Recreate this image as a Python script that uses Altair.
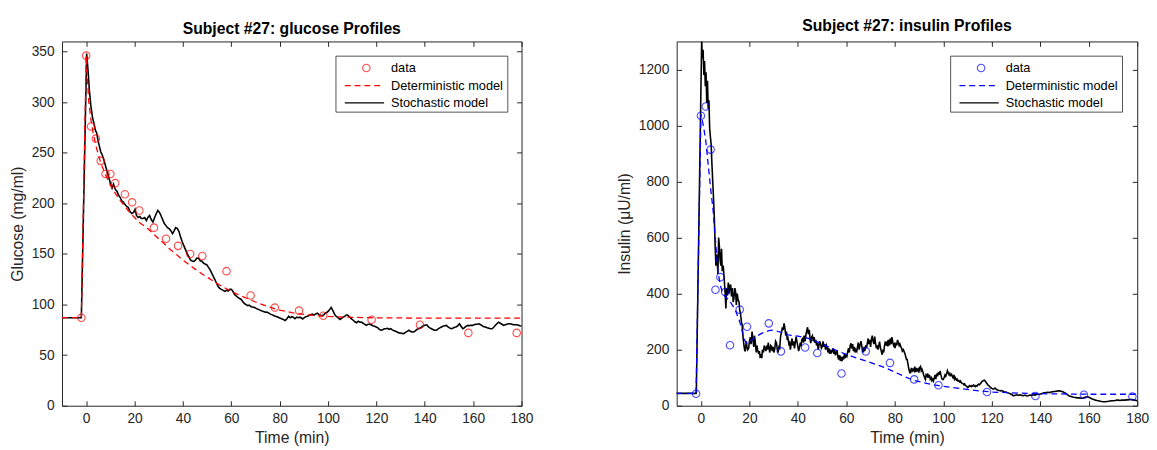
import altair as alt
import pandas as pd

FONT = "Liberation Sans"
TXT = "#262626"

# ---------------- shared ----------------
x_ticks = [0, 20, 40, 60, 80, 100, 120, 140, 160, 180]
x_domain = [-10, 180]
legend_labels = ["data", "Deterministic model", "Stochastic model"]

# ---------------- glucose ----------------
g_data_t = [-2, 0, 2, 4, 6, 8, 10, 12, 16, 19, 22, 28, 33, 38, 43, 48, 58, 68, 78, 88, 98, 118, 138, 158, 178]
g_data_v = [87, 346, 276, 264, 242, 229, 229, 220, 209, 201, 193, 176, 165, 158, 150, 148, 133, 109, 97, 94, 89, 85, 80, 72, 72]

g_det_t = [-10, -2, 0, 1, 2, 3, 4, 6, 8, 10, 12, 14, 16, 18, 20, 22, 25, 30, 35, 40, 45, 50, 55, 60, 65, 70, 75, 80, 85, 90, 95, 100, 110, 120, 140, 180]
g_det_v = [87, 87, 346, 302, 282, 268, 257, 240, 228, 218, 210, 203, 197, 191, 186, 181, 176, 165, 154, 144, 135, 127, 119.5, 113, 107.5, 102.5, 98, 94.5, 92, 90.3, 89, 88.2, 87.3, 86.9, 86.6, 86.5]

g_sto_t = [-10, -2, 0.2, 0.8, 1.3, 1.9, 2.6, 3.2, 3.8, 4.3, 5.0, 5.5, 6.0, 6.6, 7.3, 8.0, 8.6, 9.3, 10.0, 10.7, 11.3, 12.0, 12.7, 13.4, 14.0, 14.7, 15.4, 16.0, 16.7, 17.4, 18.1, 18.8, 19.6, 20.2, 20.8, 21.5, 22.2, 22.8, 23.5, 24.2, 24.9, 25.5, 26.2, 26.9, 27.6, 28.3, 29.0, 29.6, 30.3, 30.9, 31.6, 32.3, 33.0, 33.6, 34.3, 35.0, 35.7, 36.4, 37.0, 37.7, 38.4, 39.0, 39.7, 40.4, 41.1, 41.8, 42.4, 43.1, 43.8, 44.5, 45.2, 45.8, 46.5, 47.2, 47.8, 48.5, 49.2, 49.9, 50.5, 51.2, 51.9, 52.5, 53.2, 53.9, 54.5, 55.2, 55.9, 56.6, 57.3, 58.0, 58.7, 59.4, 60.0, 60.7, 61.3, 62.0, 62.7, 63.4, 64.0, 64.7, 65.4, 66.1, 66.8, 67.4, 68.1, 68.7, 69.4, 70.1, 70.8, 71.5, 72.2, 72.8, 73.5, 74.2, 74.9, 75.5, 76.2, 76.9, 77.5, 78.2, 78.9, 79.6, 80.3, 81.0, 81.7, 82.3, 83.0, 83.7, 84.3, 85.0, 85.6, 86.3, 87.0, 87.7, 88.4, 89.1, 89.5, 90.2, 90.8, 91.5, 92.1, 92.8, 93.5, 94.2, 94.9, 95.6, 96.2, 96.9, 97.6, 98.3, 98.9, 99.6, 100.3, 101.3, 102.0, 102.6, 103.0, 103.6, 104.3, 105.0, 105.6, 106.3, 107.0, 107.6, 108.1, 108.8, 109.7, 110.4, 111.1, 111.8, 112.5, 113.2, 113.8, 114.5, 115.2, 115.8, 116.5, 117.2, 117.8, 118.5, 119.2, 119.9, 120.6, 121.2, 121.9, 122.6, 123.2, 123.9, 124.6, 125.2, 125.9, 126.6, 127.3, 127.9, 128.6, 129.3, 130.0, 130.6, 131.3, 132.0, 132.7, 133.4, 134.0, 134.7, 135.4, 136.1, 136.7, 137.4, 138.1, 138.8, 139.4, 140.1, 140.8, 141.5, 142.1, 142.8, 143.5, 144.1, 144.8, 145.5, 146.2, 146.9, 147.5, 148.2, 148.9, 149.6, 150.2, 150.9, 151.6, 152.2, 152.9, 153.6, 154.3, 155.0, 155.7, 156.3, 157.0, 157.7, 158.4, 159.0, 159.7, 160.4, 161.0, 161.7, 162.4, 163.1, 163.8, 164.4, 165.1, 165.8, 166.5, 167.1, 167.8, 168.5, 169.2, 169.8, 170.5, 171.2, 171.9, 172.6, 173.3, 173.9, 174.6, 175.3, 176.0, 176.6, 177.3, 178.0, 178.7, 179.3, 180]
g_sto_v = [87, 87, 348, 330, 312, 297, 285, 279, 272, 270, 261, 256, 251, 248, 243, 237, 232, 226, 220, 215, 219, 214, 212, 208, 206, 202.5, 201, 199, 197, 196, 192, 190, 191, 194, 188, 186, 187, 185, 185, 186, 183, 186, 188, 184, 181.5, 186, 190, 193, 191, 188, 184, 180, 178, 176, 175, 173, 170, 173, 176, 175, 172, 167, 162, 158, 154, 150, 147.5, 144, 143, 142.6, 144, 146, 145.8, 143, 143, 141, 140, 139.3, 137, 134.5, 131, 128, 124.7, 121, 118, 116, 115, 114, 113, 114, 113.4, 115, 115, 113, 110, 108.5, 107, 106, 105.3, 103, 101, 100, 98.9, 99.5, 98, 97.5, 97.2, 96.5, 95.5, 95, 94, 93.5, 93, 92.5, 92.4, 91.5, 90.5, 89.8, 89.1, 88.5, 88, 87.2, 86.5, 85.8, 85, 84.3, 86, 88.5, 87, 88, 87.5, 86, 87.5, 87, 87.5, 86.5, 85.8, 87, 88, 88.5, 89.1, 90, 90.5, 89.5, 90.7, 91.5, 90, 89.5, 89.1, 90, 91.5, 92.4, 94, 97.2, 94, 91, 89.1, 88, 86.5, 85.3, 86.5, 87.5, 88.5, 89.7, 89.7, 88, 85.8, 84.5, 83, 82, 83.5, 82.5, 82.6, 81.5, 80.5, 79.4, 80.5, 80.5, 80, 79, 78.5, 77.8, 77, 75.5, 74.6, 75, 76, 76.1, 76.5, 75.5, 76.1, 75, 74, 73.5, 72.9, 72, 71.8, 71.5, 71.3, 72.5, 73.5, 74.6, 73.5, 73, 72.9, 74, 75.5, 76, 76.8, 78, 79, 79.5, 80, 78, 77, 76.1, 75, 74.6, 74.6, 76, 77, 77.8, 78.5, 79, 79.4, 78, 77, 76.1, 76.5, 77.5, 77.8, 79, 81, 78.5, 76.1, 77, 78.5, 79.4, 79, 79.5, 79.4, 80, 80.5, 80.5, 81, 80, 79, 78, 77.8, 77, 76.5, 76.1, 76.1, 77.5, 79.5, 81, 82.6, 81.5, 80.5, 79.4, 80, 80.5, 81, 81, 80.5, 80, 80, 80, 79.5, 79, 78.7]

# ---------------- insulin ----------------
i_data_t = [-2, 0, 2, 4, 6, 8, 10, 12, 16, 19, 28, 33, 43, 48, 58, 68, 78, 88, 98, 118, 138, 158, 178]
i_data_v = [43, 1035, 1068, 914, 414, 459, 406, 216, 343, 282, 294, 194, 208, 188, 115, 194, 153, 94, 73, 49, 35, 39, 33]

i_det_t = [-10, -2, 0, 1, 2, 3, 4, 5, 6, 7, 8, 9, 10, 12, 14, 16, 18, 19, 20, 22, 25, 28, 30, 33, 36, 40, 44, 48, 52, 56, 60, 64, 68, 72, 76, 80, 84, 88, 92, 96, 100, 105, 110, 115, 120, 128, 140, 160, 180]
i_det_v = [44, 44, 1040, 1000, 945, 860, 775, 700, 590, 480, 430, 400, 390, 372, 345, 300, 235, 222, 226, 243, 258, 268, 270, 262, 253, 248, 241, 228, 212, 197, 183, 171, 160, 148, 136, 120, 104, 90, 82, 75, 69, 64, 58, 53, 49, 46, 43, 41, 41]

i_sto_t = [-10, -2, -1.9, 0.3, 0.6, 0.9, 1.2, 1.5, 1.8, 2.1, 2.4, 2.7, 3.0, 3.3, 3.6, 3.9, 4.2, 4.5, 4.9, 5.2, 5.5, 5.9, 6.2, 6.4, 6.7, 7.0, 7.3, 7.6, 7.9, 8.2, 8.5, 8.8, 9.2, 9.6, 10.0, 10.3, 10.6, 10.9, 11.3, 11.6, 12.0, 12.3, 12.6, 13.0, 13.3, 13.6, 14.0, 14.3, 14.6, 15.0, 15.3, 15.7, 16.0, 16.3, 16.7, 17.0, 17.3, 17.7, 18.0, 18.3, 18.7, 19.0, 19.3, 19.7, 20.0, 20.4, 20.7, 21.1, 21.4, 21.8, 22.1, 22.4, 22.8, 23.1, 23.4, 23.8, 24.1, 24.4, 24.8, 25.1, 25.4, 25.8, 26.1, 26.4, 26.8, 27.1, 27.4, 27.8, 28.1, 28.4, 28.8, 29.1, 29.4, 29.8, 30.1, 30.5, 30.8, 31.2, 31.5, 31.8, 32.2, 32.5, 32.9, 33.2, 33.6, 33.9, 34.3, 34.6, 35.0, 35.3, 35.6, 35.9, 36.3, 36.6, 36.9, 37.2, 37.6, 37.9, 38.2, 38.6, 38.9, 39.3, 39.6, 39.9, 40.3, 40.6, 41.0, 41.3, 41.6, 42.0, 42.3, 42.6, 43.0, 43.3, 43.7, 44.0, 44.3, 44.7, 45.0, 45.3, 45.7, 46.0, 46.4, 46.7, 47.0, 47.4, 47.7, 48.0, 48.4, 48.7, 49.0, 49.4, 49.7, 50.1, 50.4, 50.8, 51.1, 51.4, 51.8, 52.1, 52.4, 52.8, 53.1, 53.5, 53.8, 54.1, 54.5, 54.8, 55.1, 55.5, 55.8, 56.2, 56.5, 56.8, 57.2, 57.5, 57.8, 58.2, 58.5, 58.9, 59.2, 59.5, 59.9, 60.2, 60.6, 60.9, 61.2, 61.6, 61.9, 62.2, 62.6, 62.9, 63.3, 63.6, 63.9, 64.3, 64.6, 64.9, 65.3, 65.6, 66.0, 66.3, 66.6, 67.0, 67.3, 67.6, 68.0, 68.3, 68.7, 69.0, 69.3, 69.7, 70.0, 70.3, 70.7, 71.0, 71.4, 71.7, 72.0, 72.4, 72.7, 73.1, 73.4, 73.7, 74.1, 74.4, 74.8, 75.1, 75.4, 75.7, 76.1, 76.4, 76.8, 77.1, 77.4, 77.8, 78.1, 78.5, 78.8, 79.1, 79.5, 79.8, 80.1, 80.5, 80.8, 81.1, 81.5, 81.8, 82.1, 82.5, 82.8, 83.1, 83.5, 83.8, 84.2, 84.5, 84.8, 85.1, 85.5, 85.8, 86.2, 86.5, 86.8, 87.2, 87.5, 87.9, 88.2, 88.5, 88.9, 89.2, 89.6, 89.9, 90.2, 90.6, 90.9, 91.2, 91.6, 91.9, 92.3, 92.6, 92.9, 93.3, 93.6, 93.9, 94.3, 94.6, 95.0, 95.3, 95.6, 95.9, 96.3, 96.6, 96.9, 97.3, 97.6, 98.0, 98.3, 98.7, 99.0, 99.3, 99.6, 100.0, 100.3, 100.7, 101.0, 101.4, 101.7, 102.0, 102.4, 102.7, 103.0, 103.4, 103.7, 104.0, 104.4, 104.7, 105.0, 105.4, 105.7, 106.1, 106.4, 106.8, 107.1, 107.4, 107.8, 108.1, 108.5, 108.8, 109.1, 109.5, 109.8, 110.1, 110.5, 110.8, 111.2, 111.5, 111.8, 112.2, 112.5, 112.8, 113.2, 113.5, 113.9, 114.2, 114.5, 114.9, 115.2, 115.6, 115.9, 116.2, 116.6, 116.9, 117.3, 117.6, 117.9, 118.3, 118.6, 118.9, 119.3, 119.6, 120.0, 120.3, 120.6, 121.0, 121.3, 121.6, 122.0, 122.4, 122.7, 123.1, 123.6, 124.1, 124.6, 125.1, 125.6, 126.3, 127.0, 127.6, 128.3, 129.0, 129.7, 130.4, 131.0, 131.7, 132.4, 133.0, 133.7, 134.4, 135.0, 135.7, 136.4, 137.1, 137.8, 138.4, 139.1, 139.8, 140.5, 141.2, 141.8, 142.5, 143.2, 143.8, 144.5, 145.2, 145.9, 146.6, 147.3, 147.9, 148.6, 149.3, 150.0, 150.7, 151.3, 152.0, 152.7, 153.4, 154.0, 154.7, 155.4, 156.1, 156.7, 157.4, 158.1, 158.8, 159.4, 160.1, 160.8, 161.4, 162.1, 162.8, 163.4, 164.1, 164.8, 165.4, 166.1, 166.8, 167.5, 168.2, 168.8, 169.5, 170.2, 170.9, 171.5, 172.2, 172.9, 173.6, 174.2, 174.9, 175.6, 176.3, 177.0, 177.6, 178.3, 179.0, 180]
i_sto_v = [44, 44, 47, 1300, 1240, 1270, 1180, 1230, 1140, 1190, 1080, 1160, 1060, 1090, 990, 960, 935, 870, 794, 740, 677, 559, 500, 540, 523, 470, 600, 571, 520, 500, 560, 480, 500, 453, 400, 347, 420, 394, 440, 400, 430, 430, 390, 420, 370, 382, 420, 406, 360, 400, 380, 371, 340, 330, 300, 288, 250, 220, 200, 194, 230, 210, 200, 206, 230, 245, 220, 265, 240, 210, 250, 229, 190, 215, 200, 185, 195, 175, 180, 170, 200, 190, 215, 206, 195, 215, 200, 225, 205, 190, 215, 212, 195, 210, 190, 205, 230, 223, 200, 190, 210, 206, 250, 260, 280, 270, 294, 280, 250, 265, 235, 241, 220, 225, 200, 218, 240, 215, 230, 205, 225, 247, 230, 215, 195, 205, 225, 212, 235, 240, 225, 250, 230, 253, 270, 280, 255, 271, 240, 223, 245, 250, 230, 245, 225, 235, 215, 225, 200, 215, 230, 220, 205, 212, 230, 210, 220, 200, 215, 206, 190, 205, 185, 200, 190, 194, 205, 185, 200, 180, 190, 194, 175, 165, 180, 160, 170, 159, 175, 165, 185, 170, 180, 176, 195, 205, 190, 215, 223, 205, 220, 195, 210, 190, 200, 194, 210, 225, 200, 215, 230, 218, 200, 190, 210, 195, 215, 206, 225, 240, 220, 235, 210, 235, 250, 230, 220, 247, 225, 205, 215, 200, 215, 229, 205, 195, 182, 200, 190, 212, 230, 215, 225, 212, 235, 215, 240, 220, 245, 229, 215, 220, 206, 225, 215, 235, 225, 215, 220, 210, 205, 195, 200, 194, 185, 175, 165, 165, 145, 130, 118, 118, 135, 125, 130, 124, 140, 120, 135, 125, 130, 118, 135, 140, 125, 130, 120, 110, 100, 94, 110, 105, 115, 100, 110, 95, 100, 90, 95, 88, 100, 110, 95, 115, 105, 120, 110, 124, 110, 100, 94, 94, 100, 110, 105, 115, 125, 118, 110, 115, 108, 112, 105, 100, 110, 95, 100, 92, 95, 88, 90, 85, 88, 82, 80, 79, 75, 78, 72, 70, 68, 65, 68, 72, 70, 68, 72, 70, 74, 71, 68, 72, 70, 74, 77, 75, 78, 82, 86, 88, 90, 91, 88, 84, 80, 76, 72, 71, 67, 64, 62, 60, 59, 61, 63, 61, 58, 56, 55, 54, 53, 54, 52, 50, 49, 47, 45, 43, 40, 35, 37, 39, 37, 39, 37, 36, 38, 35, 36, 38, 37, 39, 38, 40, 41, 41, 43, 45, 46, 47, 48, 47, 49, 50, 51, 52, 53, 53, 52, 50, 47, 43, 39, 35, 33, 31, 30, 29, 28, 28, 27, 27, 29, 31, 32, 30, 27, 24, 22, 20, 19, 18, 16, 15, 14, 14, 15, 16, 17, 18, 18, 19, 20, 20, 19, 20, 20, 20, 21, 21, 22, 22, 21, 20, 18]

H = 371


def panel(title, ytitle, ydomain, yticks, color, dt, dv, mt, mv, st, sv, width):
    xs = alt.Scale(domain=x_domain, nice=False, zero=False)
    ys = alt.Scale(domain=ydomain, nice=False, zero=False)
    d_data = pd.DataFrame({"t": dt, "v": dv})
    d_det = pd.DataFrame({"t": mt, "v": mv})
    d_sto = pd.DataFrame({"t": st, "v": sv})

    common = dict(labelFont=FONT, labelFontSize=14, labelColor=TXT, labelFlush=False,
                  titleFont=FONT, titleFontSize=16, titleFontWeight="normal",
                  titleColor=TXT, domainColor=TXT, domainWidth=1, grid=False, format="d")

    stoch = alt.Chart(d_sto).mark_line(color="black", strokeWidth=1.6).encode(
        x=alt.X("t:Q", scale=xs, axis=alt.Axis(values=x_ticks, title="Time (min)", ticks=False,
                                               labelPadding=6, titlePadding=4, **common)),
        y=alt.Y("v:Q", scale=ys, axis=alt.Axis(values=yticks, title=ytitle, ticks=False,
                                               labelPadding=8, titlePadding=6, **common)),
    )
    det = alt.Chart(d_det).mark_line(color=color, strokeWidth=1.3, strokeDash=[6, 4]).encode(
        x=alt.X("t:Q", scale=xs, axis=None), y=alt.Y("v:Q", scale=ys, axis=None))
    pts = alt.Chart(d_data).mark_point(shape="circle", filled=False, size=58, strokeWidth=1.1,
                                       color=color).encode(
        x=alt.X("t:Q", scale=xs, axis=None), y=alt.Y("v:Q", scale=ys, axis=None))

    tick_common = dict(labels=False, grid=False, title="", tickColor=TXT, tickSize=5, tickWidth=1,
                       domainColor=TXT, domainWidth=1)
    ticksA = alt.Chart(d_data).mark_point(opacity=0).encode(
        x=alt.X("t:Q", scale=xs, axis=alt.Axis(values=x_ticks, orient="top", offset=-H, domain=False, **tick_common)),
        y=alt.Y("v:Q", scale=ys, axis=alt.Axis(values=yticks, orient="right", offset=-width, domain=False, **tick_common)),
    )
    ticksB = alt.Chart(d_data).mark_point(opacity=0).encode(
        x=alt.X("t:Q", scale=xs, axis=alt.Axis(values=x_ticks, orient="bottom", offset=-H, domain=True, **tick_common)),
        y=alt.Y("v:Q", scale=ys, axis=alt.Axis(values=yticks, orient="left", offset=-width, domain=True, **tick_common)),
    )

    # legend (in pixel space of the plot area)
    bx0, bx1, by0, by1 = 279, 454, 15, 72
    rows = [27, 45, 62.5]
    box = alt.Chart(pd.DataFrame({"a": [0]})).mark_rect(fill="white", stroke=TXT, strokeWidth=0.8).encode(
        x=alt.value(bx0), x2=alt.value(bx1), y=alt.value(by0), y2=alt.value(by1))
    lg_pt = alt.Chart(pd.DataFrame({"a": [0]})).mark_point(shape="circle", filled=False, size=58,
                                                           strokeWidth=1.1, color=color).encode(
        x=alt.value(310), y=alt.value(rows[0]))
    lg_det = alt.Chart(pd.DataFrame({"a": [0]})).mark_rule(color=color, strokeWidth=1.3, strokeDash=[6, 4]).encode(
        x=alt.value(288), x2=alt.value(328), y=alt.value(rows[1]))
    lg_sto = alt.Chart(pd.DataFrame({"a": [0]})).mark_rule(color="black", strokeWidth=1.3).encode(
        x=alt.value(288), x2=alt.value(328), y=alt.value(rows[2]))
    texts = []
    for lab, yy in zip(legend_labels, rows):
        texts.append(alt.Chart(pd.DataFrame({"label": [lab]})).mark_text(
            align="left", baseline="middle", font=FONT, fontSize=13, color="black").encode(
            x=alt.value(335), y=alt.value(yy), text="label:N"))

    return alt.layer(stoch, det, pts, ticksA, ticksB, box, lg_pt, lg_det, lg_sto, *texts).resolve_axis(
        x="independent", y="independent").properties(
        width=width, height=H,
        title=alt.TitleParams(title, font=FONT, fontSize=16, fontWeight="bold", color="black",
                              offset=4, anchor="middle"))


left = panel("Subject #27: glucose Profiles", "Glucose (mg/ml)", [0, 360],
             [0, 50, 100, 150, 200, 250, 300, 350], "#ff0000",
             g_data_t, g_data_v, g_det_t, g_det_v, g_sto_t, g_sto_v, 468)
right = panel("Subject #27: insulin Profiles", "Insulin (μU/ml)", [0, 1300],
              [0, 200, 400, 600, 800, 1000, 1200], "#0000ff",
              i_data_t, i_data_v, i_det_t, i_det_v, i_sto_t, i_sto_v, 469)

chart = alt.hconcat(left, right, spacing=84).properties(
    padding={"left": 1, "top": 6, "right": 0, "bottom": 0},
    background="white",
).configure_view(stroke=None)

chart.save("out.html", embed_options={"renderer": "svg", "actions": False})
